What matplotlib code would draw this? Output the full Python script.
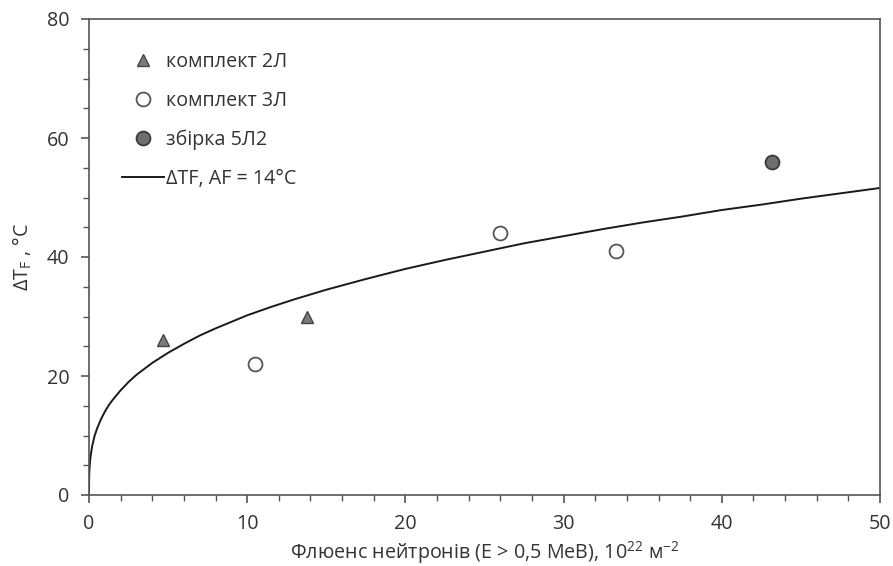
import matplotlib
matplotlib.use("Agg")
import matplotlib.pyplot as plt
from matplotlib.ticker import MultipleLocator

plt.rcParams['font.family'] = ['Open Sans', 'DejaVu Sans']
plt.rcParams['mathtext.fontset'] = 'custom'
plt.rcParams['mathtext.rm'] = 'Open Sans'
plt.rcParams['mathtext.it'] = 'Open Sans'

# Data
set2_x = [4.7, 13.8]
set2_y = [26, 30]
set3_x = [10.5, 26.0, 33.3]
set3_y = [22, 44, 41]
asm_x = [43.2]
asm_y = [56]

curve_x = [0, 0.01, 0.02, 0.05, 0.1, 0.2, 0.35, 0.5, 0.75, 1, 1.25, 1.5, 2, 2.5, 3,
           3.5, 4, 5, 6, 7, 8, 9, 10, 11.5, 13, 15, 17.5, 20, 22.5, 25, 27.5, 30,
           32.5, 35, 37.5, 40, 42.5, 45, 47.5, 50]
curve_y = [0, 3.0, 3.8, 5.2, 6.5, 8.2, 9.9, 11.1, 12.7, 14.0, 15.1, 16.0, 17.6, 19.0,
           20.2, 21.2, 22.2, 23.9, 25.4, 26.8, 28.0, 29.1, 30.2, 31.6, 32.9, 34.5,
           36.3, 38.0, 39.5, 40.9, 42.3, 43.5, 44.7, 45.8, 46.8, 47.9, 48.8, 49.8,
           50.7, 51.6]

labels = ['комплект 2Л', 'комплект 3Л', 'збірка 5Л2', 'ΔTF, AF = 14°C']

fig = plt.figure(figsize=(8.93, 5.66), dpi=100)
ax = fig.add_axes([89/893, 71/566, 791/893, 476/566])

axc = '#555555'
txt = '#333333'
fs = 14.2

ln, = ax.plot(curve_x, curve_y, color='#1a1a1a', lw=1.4, label=labels[3], zorder=2)
h1, = ax.plot(set2_x, set2_y, ls='none', marker='^', ms=9, mfc='#7a7a7a', mec='#444444',
              mew=1.0, label=labels[0], zorder=3)
h2, = ax.plot(set3_x, set3_y, ls='none', marker='o', ms=10, mfc='white', mec='#555555',
              mew=1.3, label=labels[1], zorder=3)
h3, = ax.plot(asm_x, asm_y, ls='none', marker='o', ms=10, mfc='#6e6e6e', mec='#3a3a3a',
              mew=1.3, label=labels[2], zorder=3)

ax.set_xlim(0, 50)
ax.set_ylim(0, 80)
ax.xaxis.set_major_locator(MultipleLocator(10))
ax.xaxis.set_minor_locator(MultipleLocator(2))
ax.yaxis.set_major_locator(MultipleLocator(20))
ax.yaxis.set_minor_locator(MultipleLocator(5))

for s in ax.spines.values():
    s.set_color(axc)
    s.set_linewidth(1.2)
ax.tick_params(which='major', direction='out', length=6, width=1.2, color=axc,
               labelsize=fs, labelcolor=txt, pad=8)
ax.tick_params(which='minor', direction='out', length=4, width=1.0, color=axc)

ax.set_xlabel('Флюенс нейтронів (E > 0,5 МеВ), 10$^{22}$ м$^{\\mathrm{-2}}$',
              fontsize=fs, color=txt, labelpad=3)
ax.set_ylabel('ΔT$_{\\mathrm{F}}$ , °C', fontsize=fs, color=txt, labelpad=9)

leg = ax.legend(handles=[h1, h2, h3, ln], loc='upper left', bbox_to_anchor=(0.042, 0.93),
                frameon=False, fontsize=fs, labelspacing=0.95, handlelength=2.1,
                handletextpad=0.1, borderpad=0, borderaxespad=0, numpoints=1)
for t in leg.get_texts():
    t.set_color(txt)

fig.savefig('out.png', dpi=100)
